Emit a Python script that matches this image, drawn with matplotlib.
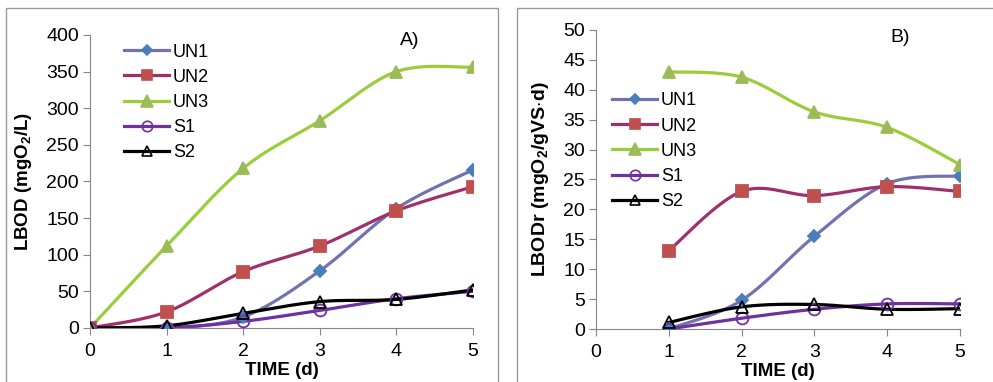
import numpy as np
import matplotlib
matplotlib.use("Agg")
import matplotlib.pyplot as plt
from matplotlib.patches import Rectangle

plt.rcParams['font.family'] = ['Liberation Sans', 'DejaVu Sans']
plt.rcParams['mathtext.fontset'] = 'custom'
plt.rcParams['mathtext.rm'] = 'Liberation Sans'
plt.rcParams['mathtext.bf'] = 'Liberation Sans:bold'

# panel A data
days_a = [0, 1, 2, 3, 4, 5]
un1_a = [0, 0, 15, 78, 163, 216]
un2_a = [0, 22, 77, 112, 160, 193]
un3_a = [0, 112, 218, 283, 350, 356]
s1_a = [0, 0, 9, 24, 40, 50]
s2_a = [0, 3, 20, 36, 39, 52]

# panel B data
days_b = [1, 2, 3, 4, 5]
un1_b = [0, 4.8, 15.5, 24.3, 25.6]
un2_b = [13.1, 23.0, 22.3, 23.8, 23.0]
un3_b = [43.0, 42.1, 36.3, 33.7, 27.5]
s1_b = [0, 1.8, 3.3, 4.2, 4.2]
s2_b = [1.1, 3.7, 4.1, 3.3, 3.4]

labels = ["UN1", "UN2", "UN3", "S1", "S2"]

# line colour, marker, marker face, marker edge, marker size
styles = [
    ("#7272B2", "D", "#4A7EBB", "#4A7EBB", 6.5),
    ("#A0306C", "s", "#C0504D", "#C0504D", 8.5),
    ("#9ACD3A", "^", "#9BBB59", "#9BBB59", 9),
    ("#7030A0", "o", "none", "#7030A0", 8.5),
    ("black", "^", "none", "black", 8.5),
]


def smooth(x, y, n=30):
    # Catmull-Rom style bezier, like Excel smoothed lines
    x = np.asarray(x, float)
    y = np.asarray(y, float)
    pts = np.column_stack([x, y])
    out = []
    t = np.linspace(0, 1, n)
    for i in range(len(pts) - 1):
        p0 = pts[max(i - 1, 0)]
        p1 = pts[i]
        p2 = pts[i + 1]
        p3 = pts[min(i + 2, len(pts) - 1)]
        c1 = p1 + (p2 - p0) / 6
        c2 = p2 - (p3 - p1) / 6
        seg = ((1 - t) ** 3)[:, None] * p1 + (3 * (1 - t) ** 2 * t)[:, None] * c1 \
            + (3 * (1 - t) * t ** 2)[:, None] * c2 + (t ** 3)[:, None] * p2
        out.append(seg)
    s = np.vstack(out)
    return s[:, 0], s[:, 1]


def draw_panel(ax, x, series, ymax, ystep, ylabel, ylabel_size, tag, tag_y, legend_anchor):
    handles = []
    for y, lab, (lc, mk, mf, me, ms) in zip(series, labels, styles):
        sx, sy = smooth(x, y)
        ax.plot(sx, sy, color=lc, lw=2.3, zorder=2)
        ax.plot(x, y, ls="none", marker=mk, ms=ms, mfc=mf, mec=me, mew=1.3, zorder=3)
        h, = ax.plot([], [], color=lc, lw=2.3, marker=mk, ms=ms - 1, mfc=mf, mec=me, mew=1.2)
        handles.append(h)
    ax.set_xlim(0, 5)
    ax.set_ylim(0, ymax)
    ax.set_xticks(range(6))
    ax.set_yticks(np.arange(0, ymax + ystep / 2, ystep))
    for sp in ["top", "right"]:
        ax.spines[sp].set_visible(False)
    for sp in ["left", "bottom"]:
        ax.spines[sp].set_color("#868686")
    ax.tick_params(colors="#868686", labelcolor="black", labelsize=14, length=5,
                   direction="out", pad=3)
    ax.tick_params(axis="x", pad=6)
    ax.set_xlabel("TIME (d)", fontsize=13.5, fontweight="bold", labelpad=1)
    ax.set_ylabel(ylabel, fontsize=ylabel_size, fontweight="bold", labelpad=9)
    ax.text(0.81, tag_y, tag, transform=ax.transAxes, fontsize=14, ha="left", va="center")
    ax.legend(handles, labels, loc="upper left", bbox_to_anchor=legend_anchor, frameon=False,
              fontsize=13, handlelength=2.5, handletextpad=0.2, labelspacing=0.45,
              borderaxespad=0)


fig = plt.figure(figsize=(9.93, 3.82), dpi=100)

# panel frames
fig.patches.append(Rectangle((6 / 993, -0.05), 492 / 993, 1.05 - 8 / 382,
                             transform=fig.transFigure, fill=False, ec="#9A9A9A", lw=1))
fig.patches.append(Rectangle((517 / 993, -0.05), 480 / 993, 1.05 - 8 / 382,
                             transform=fig.transFigure, fill=False, ec="#9A9A9A", lw=1))

ax1 = fig.add_axes([90 / 993, 0.1414, 383 / 993, 0.767])
draw_panel(ax1, days_a, [un1_a, un2_a, un3_a, s1_a, s2_a], 400, 50,
           r"LBOD (mgO$_\mathbf{2}$/L)", 13.5, "A)", 0.98, (0.07, 0.995))

ax2 = fig.add_axes([596 / 993, 0.1387, 364 / 993, 0.783])
draw_panel(ax2, days_b, [un1_b, un2_b, un3_b, s1_b, s2_b], 50, 5,
           r"LBODr (mgO$_\mathbf{2}$/gVS$\cdot$d)", 14, "B)", 0.975, (0.024, 0.815))

fig.savefig("out.png", dpi=100)
